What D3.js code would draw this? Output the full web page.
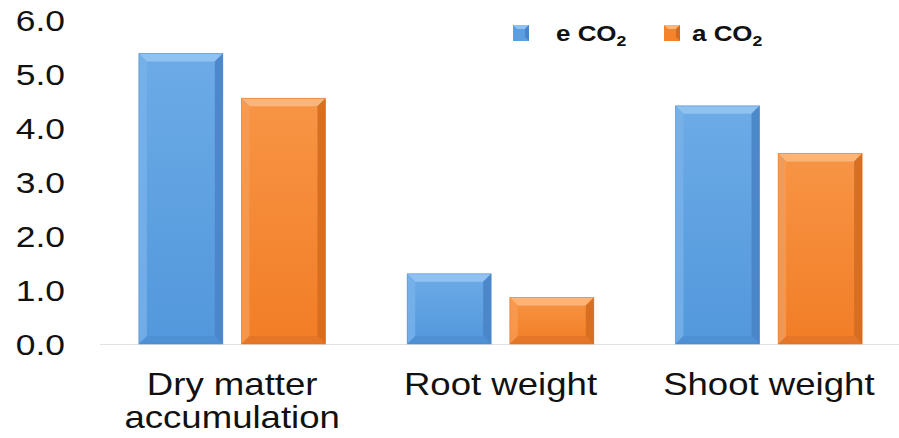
<!DOCTYPE html>
<html><head><meta charset="utf-8">
<script src="https://cdn.jsdelivr.net/npm/d3@7"></script>
<style>html,body{margin:0;padding:0;background:#fff;}svg{display:block;}</style>
</head><body>
<script>
const categories = ["Dry matter|accumulation", "Root weight", "Shoot weight"];
const seriesNames = ["e CO2", "a CO2"];
const eCO2 = [5.38, 1.30, 4.41];
const aCO2 = [4.55, 0.86, 3.53];
const yTicks = [0, 1, 2, 3, 4, 5, 6];

const W = 899, H = 438;
const svg = d3.select("body").append("svg").attr("width", W).attr("height", H);
const defs = svg.append("defs");
const font = "Liberation Sans, Arial, sans-serif";
const SX = 1.18;

const palette = [
  {id:"b", main:"#5b9fe0", top:"#8fc2f0", left:"#78b2ea", right:"#4a84c6", bottom:"#4d8dd0", g1:"#6cabe6", g2:"#5298dc"},
  {id:"o", main:"#f5832c", top:"#fbb57a", left:"#f89b52", right:"#d46c1f", bottom:"#e0742a", g1:"#f79545", g2:"#f27d26"}
];
palette.forEach(p => {
  const lg = defs.append("linearGradient").attr("id","grad"+p.id).attr("x1",0).attr("y1",0).attr("x2",0).attr("y2",1);
  lg.append("stop").attr("offset","0%").attr("stop-color",p.g1);
  lg.append("stop").attr("offset","100%").attr("stop-color",p.g2);
});

const y = d3.scaleLinear().domain([0, 6]).range([344, 20]);
const x0 = d3.scaleBand().domain(categories).range([98, 903]);
const x1 = d3.scaleBand().domain(seriesNames).range([0, x0.bandwidth()]).paddingInner(0.182).paddingOuter(0.398);

// baseline
svg.append("line").attr("x1",100).attr("x2",899).attr("y1",y(0)+0.5).attr("y2",y(0)+0.5)
  .attr("stroke","#e2e2e2").attr("stroke-width",1);

// y tick labels
yTicks.forEach(t => {
  svg.append("text").attr("transform",`translate(65,${y(t)+11}) scale(${SX},1)`)
    .attr("text-anchor","end").attr("font-family",font).attr("font-size",30).attr("fill","#111")
    .text(d3.format(".1f")(t));
});

const data = categories.map((c,i)=>({cat:c, vals:[eCO2[i], aCO2[i]]}));
const bev = 8;
data.forEach(d => {
  d.vals.forEach((v,si) => {
    const p = palette[si];
    const bx = x0(d.cat) + x1(seriesNames[si]);
    const bw = x1.bandwidth();
    const by = y(v), bh = y(0) - y(v);
    const g = svg.append("g");
    g.append("rect").attr("x",bx).attr("y",by).attr("width",bw).attr("height",bh).attr("fill","url(#grad"+p.id+")");
    const b = Math.min(bev, bh/2);
    const x2 = bx+bw, y2 = by+bh;
    g.append("path").attr("d",`M${bx},${by}L${x2},${by}L${x2-b},${by+b}L${bx+b},${by+b}Z`).attr("fill",p.top);
    g.append("path").attr("d",`M${bx},${by}L${bx+b},${by+b}L${bx+b},${y2-b}L${bx},${y2}Z`).attr("fill",p.left).attr("opacity",0.8);
    g.append("path").attr("d",`M${x2},${by}L${x2},${y2}L${x2-b},${y2-b}L${x2-b},${by+b}Z`).attr("fill",p.right).attr("opacity",0.9);
    g.append("path").attr("d",`M${bx},${y2}L${x2},${y2}L${x2-b},${y2-b}L${bx+b},${y2-b}Z`).attr("fill",p.bottom).attr("opacity",0.7);
    g.append("rect").attr("x",bx).attr("y",by).attr("width",bw).attr("height",bh).attr("fill","none")
      .attr("stroke",p.right).attr("stroke-width",0.8).attr("opacity",0.6);
  });
});

// category labels
categories.forEach(c => {
  const cx = x0(c) + x0.bandwidth()/2;
  c.split("|").forEach((line,li) => {
    svg.append("text").attr("transform",`translate(${cx},${395+li*33}) scale(${SX},1)`)
      .attr("text-anchor","middle").attr("font-family",font).attr("font-size",31).attr("fill","#111")
      .text(line);
  });
});

// legend
const legX = [513, 664], legTextX = [556, 692];
seriesNames.forEach((s,i) => {
  const p = palette[i];
  const sq = 16, sx = legX[i], sy = 25;
  svg.append("rect").attr("x",sx).attr("y",sy).attr("width",sq).attr("height",sq).attr("fill",p.main);
  svg.append("path").attr("d",`M${sx},${sy}L${sx+sq},${sy}L${sx+sq-4},${sy+4}L${sx+4},${sy+4}Z`).attr("fill",p.top);
  svg.append("path").attr("d",`M${sx+sq},${sy}L${sx+sq},${sy+sq}L${sx+sq-4},${sy+sq-4}L${sx+sq-4},${sy+4}Z`).attr("fill",p.right);
  const t = svg.append("text").attr("transform",`translate(${legTextX[i]},${41}) scale(1.18,1)`)
    .attr("font-family",font).attr("font-size",22).attr("font-weight","bold").attr("fill","#111");
  const parts = s.split("2");
  t.append("tspan").text(parts[0]);
  t.append("tspan").attr("font-size",15).attr("dy",5).text("2");
});
</script>
</body></html>
